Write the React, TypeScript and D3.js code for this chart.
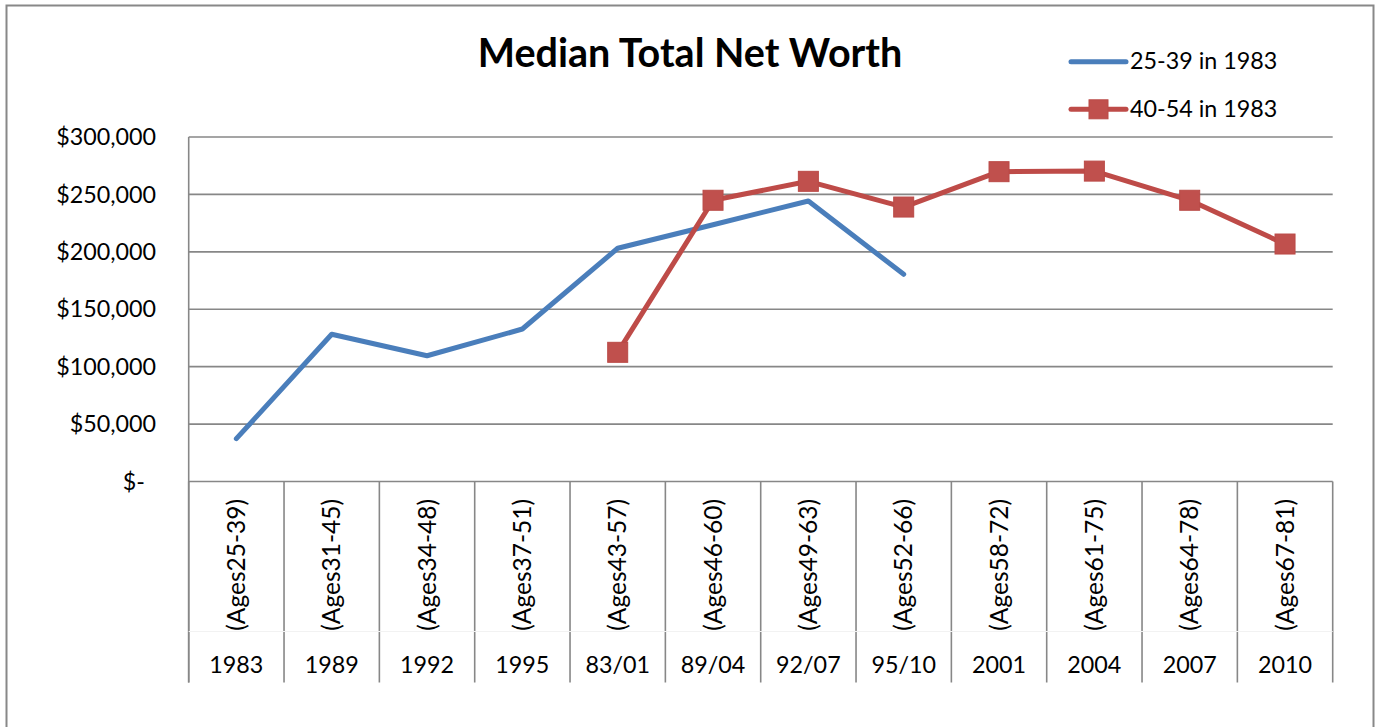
import React from "react";
import * as d3 from "d3";

const years = ["1983", "1989", "1992", "1995", "83/01", "89/04", "92/07", "95/10", "2001", "2004", "2007", "2010"];
const ageGroups = [
  "(Ages25-39)", "(Ages31-45)", "(Ages34-48)", "(Ages37-51)", "(Ages43-57)", "(Ages46-60)",
  "(Ages49-63)", "(Ages52-66)", "(Ages58-72)", "(Ages61-75)", "(Ages64-78)", "(Ages67-81)",
];
const series2539: (number | null)[] = [37300, 128200, 109500, 132800, 203100, 223600, 244300, 180400, null, null, null, null];
const series4054: (number | null)[] = [null, null, null, null, 112500, 244900, 261400, 239000, 269800, 270300, 244900, 206800];
const yTicks = [0, 50000, 100000, 150000, 200000, 250000, 300000];
const seriesNames = ["25-39 in 1983", "40-54 in 1983"];
const title = "Median Total Net Worth";

const BLUE = "#4A7EBB";
const RED = "#BE4B48";
const GRID = "#878787";
const FONT = "Lato, 'Open Sans', sans-serif";
const FS = 23.3;

export default function App() {
  const left = 188.7;
  const right = 1332.7;
  const top = 137;
  const bottom = 481.5;
  const catBottom = 682.5;

  const x = d3.scaleBand<string>().domain(years).range([left, right]).paddingInner(0).paddingOuter(0);
  const y = d3.scaleLinear().domain([0, 300000]).range([bottom, top]);
  const cx = (i: number) => (x(years[i]) as number) + x.bandwidth() / 2;

  const line = d3
    .line<number | null>()
    .defined((d) => d !== null)
    .x((_, i) => cx(i))
    .y((d) => y(d as number));

  const fmt = (v: number) => (v === 0 ? "$-" : d3.format("$,.0f")(v));

  const boundaries = d3.range(years.length + 1).map((i) =>
    i < years.length ? (x(years[i]) as number) : right
  );

  return (
    <svg
      width={1380}
      height={727}
      style={{ position: "absolute", left: 0, top: 0, background: "#fff" }}
      fontFamily={FONT}
    >
      <rect x={6.5} y={5.5} width={1367} height={760} fill="#fff" stroke="#888" strokeWidth={2} />

      {/* title */}
      <text x={690} y={67} textAnchor="middle" fontSize={39.5} fontWeight="bold" fill="#000">
        {title}
      </text>

      {/* gridlines */}
      {yTicks.map((t) => (
        <line key={"g" + t} x1={left} x2={right} y1={y(t)} y2={y(t)} stroke={GRID} strokeWidth={1.6} />
      ))}
      {/* y axis */}
      <line x1={left} x2={left} y1={top} y2={catBottom} stroke={GRID} strokeWidth={1.6} />
      {yTicks.map((t) => (
        <text
          key={"t" + t}
          x={t === 0 ? 145 : 156}
          y={y(t)}
          dy="0.35em"
          textAnchor="end"
          fontSize={FS}
          fill="#000"
        >
          {fmt(t)}
        </text>
      ))}

      {/* category separators */}
      {boundaries.map((b, i) => (
        <line key={"b" + i} x1={b} x2={b} y1={bottom} y2={catBottom} stroke={GRID} strokeWidth={1.6} />
      ))}
      <line x1={left} x2={right} y1={631.5} y2={631.5} stroke="#f2f2f2" strokeWidth={1} />

      {/* category labels */}
      {ageGroups.map((a, i) => (
        <text
          key={"a" + i}
          transform={`translate(${cx(i)},499) rotate(-90)`}
          textAnchor="end"
          dy="0.35em"
          fontSize={24.5}
          fill="#000"
        >
          {a}
        </text>
      ))}
      {years.map((yr, i) => (
        <text key={"y" + i} x={cx(i)} y={672.5} textAnchor="middle" fontSize={FS} fill="#000">
          {yr}
        </text>
      ))}

      {/* series */}
      <path d={line(series2539) || ""} fill="none" stroke={BLUE} strokeWidth={5} strokeLinecap="round" strokeLinejoin="round" />
      <path d={line(series4054) || ""} fill="none" stroke={RED} strokeWidth={5} strokeLinecap="round" strokeLinejoin="round" />
      {series4054.map((v, i) =>
        v === null ? null : (
          <rect key={"m" + i} x={cx(i) - 10} y={y(v) - 10} width={20} height={20} fill="#C0504D" stroke="#BA4A47" strokeWidth={1} />
        )
      )}

      {/* legend */}
      <line x1={1071} x2={1126} y1={61.7} y2={61.7} stroke={BLUE} strokeWidth={5} strokeLinecap="round" />
      <text x={1130} y={68.5} fontSize={FS} fill="#000">
        {seriesNames[0]}
      </text>
      <line x1={1071} x2={1126} y1={109.3} y2={109.3} stroke={RED} strokeWidth={5} strokeLinecap="round" />
      <rect x={1098.5 - 9.5} y={109.3 - 9.5} width={19} height={19} fill="#C0504D" stroke="#BA4A47" strokeWidth={1} />
      <text x={1130} y={116.5} fontSize={FS} fill="#000">
        {seriesNames[1]}
      </text>
    </svg>
  );
}
